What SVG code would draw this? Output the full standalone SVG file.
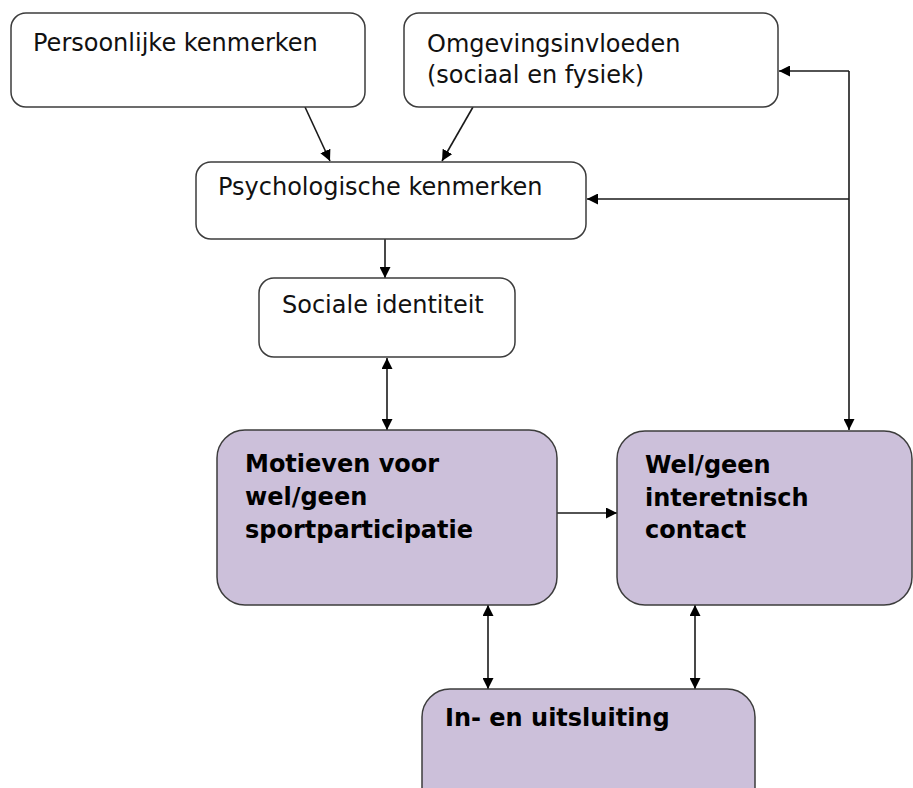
<svg xmlns="http://www.w3.org/2000/svg" width="913" height="788" viewBox="0 0 913 788">
<style>
.box{fill:#ffffff;stroke:#3c3c3c;stroke-width:1.5}
.pbox{fill:#ccc0da;stroke:#3c3c3c;stroke-width:1.5}
.t{font-family:"DejaVu Sans",Verdana,sans-serif;font-size:24px;fill:#111}
.b{font-family:"DejaVu Sans",Verdana,sans-serif;font-size:24px;font-weight:bold;fill:#000}
.c{fill:none;stroke:#1a1a1a;stroke-width:1.6}
</style>
<defs>
<marker id="ah" viewBox="0 0 11 11" refX="11" refY="5.5" markerWidth="11" markerHeight="11" markerUnits="userSpaceOnUse" orient="auto-start-reverse">
<path d="M0,0 L11,5.5 L0,11 z" fill="#000"/>
</marker>
</defs>
<g id="connectors">
<line class="c" x1="305" y1="107" x2="330" y2="161" marker-end="url(#ah)"/>
<line class="c" x1="473" y1="107" x2="442" y2="161" marker-end="url(#ah)"/>
<polyline class="c" points="849,71 849,430" marker-end="url(#ah)"/>
<line class="c" x1="849" y1="71" x2="779" y2="71" marker-end="url(#ah)"/>
<line class="c" x1="849" y1="199" x2="587" y2="199" marker-end="url(#ah)"/>
<line class="c" x1="385" y1="239" x2="385" y2="278" marker-end="url(#ah)"/>
<line class="c" x1="387" y1="358" x2="387" y2="430" marker-start="url(#ah)" marker-end="url(#ah)"/>
<line class="c" x1="557" y1="513" x2="617" y2="513" marker-end="url(#ah)"/>
<line class="c" x1="488" y1="605" x2="488" y2="689" marker-start="url(#ah)" marker-end="url(#ah)"/>
<line class="c" x1="695" y1="605" x2="695" y2="689" marker-start="url(#ah)" marker-end="url(#ah)"/>
</g>
<g id="persoonlijke">
<rect class="box" x="11" y="13" width="354" height="94" rx="15"/>
<text class="t" x="33" y="51">Persoonlijke kenmerken</text>
</g>
<g id="omgeving">
<rect class="box" x="404" y="13" width="374" height="94" rx="15"/>
<text class="t" x="427" y="52">Omgevingsinvloeden</text>
<text class="t" x="427" y="83">(sociaal en fysiek)</text>
</g>
<g id="psychologische">
<rect class="box" x="196" y="162" width="390" height="77" rx="15"/>
<text class="t" x="218" y="195">Psychologische kenmerken</text>
</g>
<g id="sociale">
<rect class="box" x="259" y="278" width="256" height="79" rx="15"/>
<text class="t" x="282" y="313">Sociale identiteit</text>
</g>
<g id="motieven">
<rect class="pbox" x="217" y="430" width="340" height="175" rx="28"/>
<text class="b" x="245" y="472">Motieven voor</text>
<text class="b" x="245" y="505">wel/geen</text>
<text class="b" x="245" y="538">sportparticipatie</text>
</g>
<g id="contact">
<rect class="pbox" x="617" y="431" width="295" height="174" rx="28"/>
<text class="b" x="645" y="473">Wel/geen</text>
<text class="b" x="645" y="506">interetnisch</text>
<text class="b" x="645" y="538">contact</text>
</g>
<g id="uitsluiting">
<rect class="pbox" x="422" y="689" width="333" height="130" rx="28"/>
<text class="b" x="445" y="726">In- en uitsluiting</text>
</g>
</svg>
